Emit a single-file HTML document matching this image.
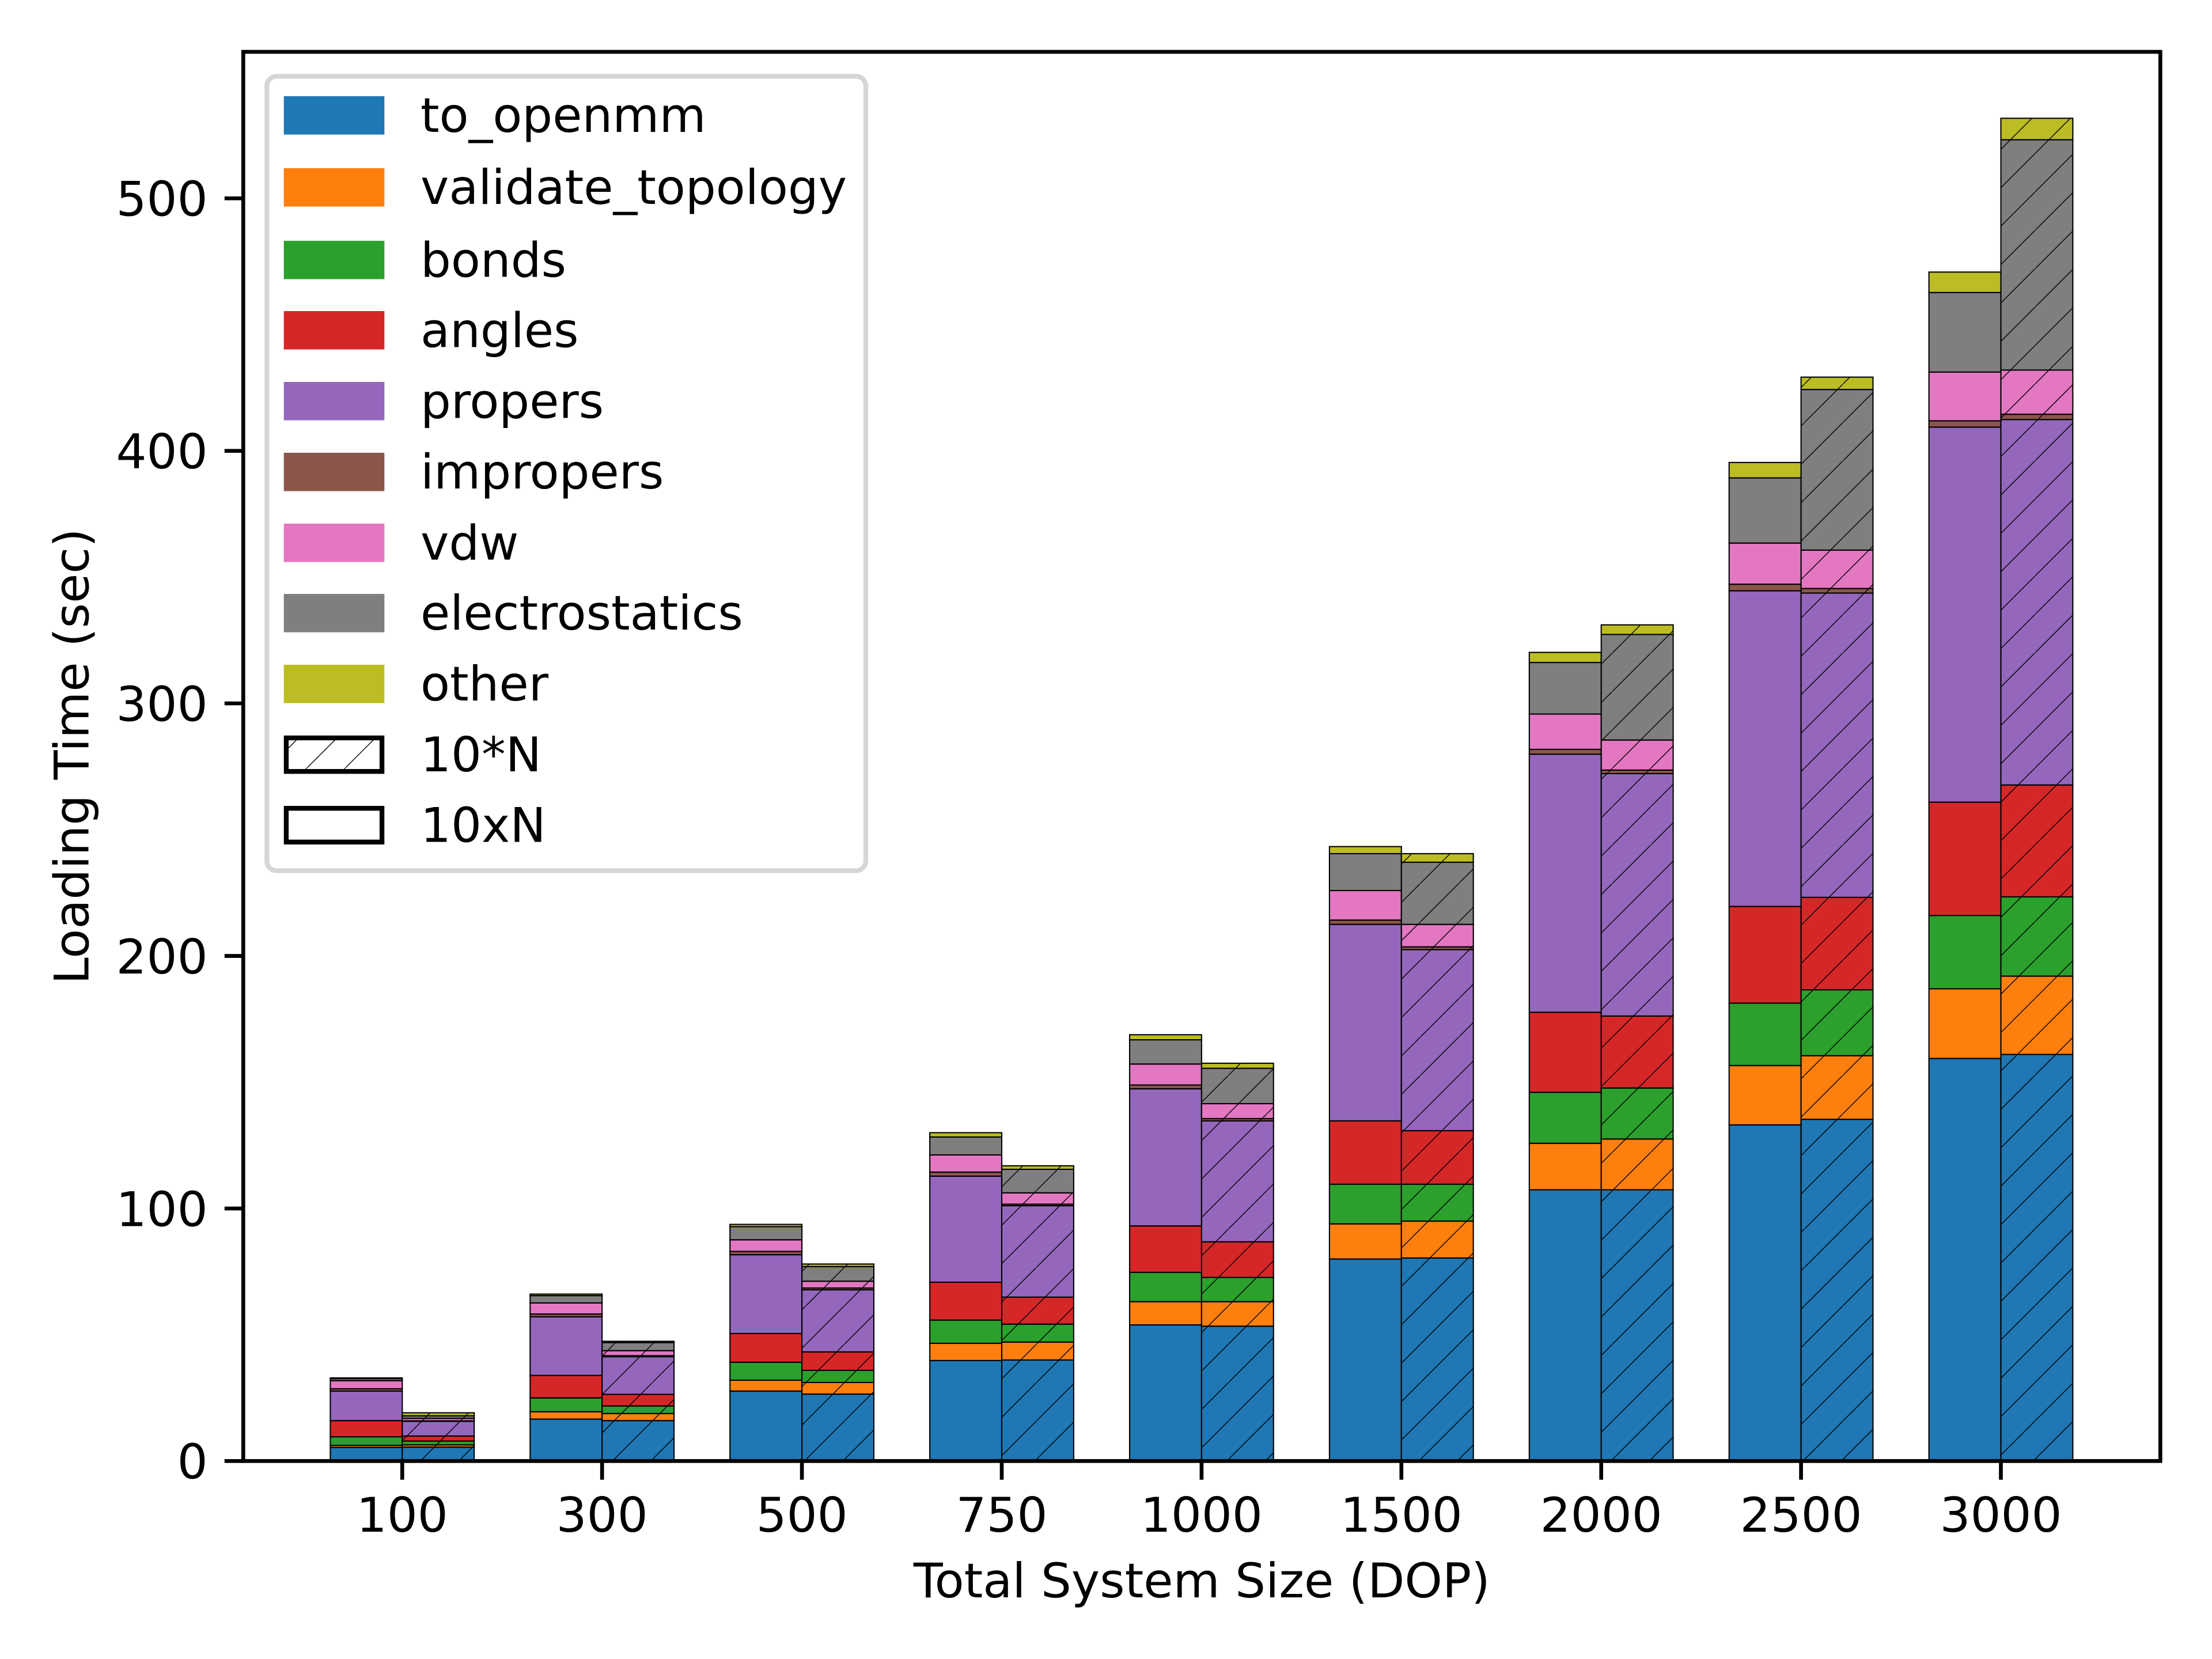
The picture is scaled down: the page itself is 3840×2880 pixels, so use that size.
<!DOCTYPE html>
<html lang="en">
<head>
<meta charset="utf-8">
<title>Loading Time vs Total System Size</title>
<style>
  html, body { margin: 0; padding: 0; background: #fff; }
  svg { display: block; }
  text { font-family: "DejaVu Sans", "Liberation Sans", sans-serif; font-size: 83.33px; fill: #000; }
</style>
</head>
<body>
<svg id="chart" xmlns="http://www.w3.org/2000/svg" width="3840" height="2880" viewBox="0 0 3840 2880">
  <defs>
    <pattern id="hatch" patternUnits="userSpaceOnUse" width="66.667" height="66.667" patternTransform="translate(-0.67 0)">
      <line x1="-5" y1="71.667" x2="71.667" y2="-5" stroke="#000" stroke-width="1.4"></line>
    </pattern>
  </defs>
  <rect x="0" y="0" width="3840" height="2880" fill="#fff"></rect>
  <g id="bars"></g>
  <g id="ticks"></g>
  <rect x="422.3" y="90" width="3328" height="2446.3" fill="none" stroke="#000" stroke-width="6.67" stroke-linejoin="miter"></rect>

  <text x="2086.3" y="2773" text-anchor="middle">Total System Size (DOP)</text>
  <text x="153.3" y="1313" text-anchor="middle" transform="rotate(-90 153.3 1313)">Loading Time (sec)</text>

  <g>
    <rect x="463.3" y="132.5" width="1039.7" height="1379" rx="16.7" ry="16.7" fill="#fff" fill-opacity="0.8" stroke="#d6d6d6" stroke-width="8.33"></rect>

    <g>
      <rect x="492.7" y="167" width="174.6" height="66.6" fill="#1f77b4"></rect>
      <text x="730" y="229">to_openmm</text>
    </g>
    <g>
      <rect x="492.7" y="292" width="174.6" height="66.6" fill="#ff7f0e"></rect>
      <text x="730" y="354">validate_topology</text>
    </g>
    <g>
      <rect x="492.7" y="418" width="174.6" height="66.6" fill="#2ca02c"></rect>
      <text x="730" y="480.7">bonds</text>
    </g>
    <g>
      <rect x="492.7" y="540" width="174.6" height="66.6" fill="#d62728"></rect>
      <text x="730" y="602.5">angles</text>
    </g>
    <g>
      <rect x="492.7" y="663" width="174.6" height="66.6" fill="#9467bd"></rect>
      <text x="730" y="725.5">propers</text>
    </g>
    <g>
      <rect x="492.7" y="786" width="174.6" height="66.6" fill="#8c564b"></rect>
      <text x="730" y="848">impropers</text>
    </g>
    <g>
      <rect x="492.7" y="909" width="174.6" height="66.6" fill="#e377c2"></rect>
      <text x="730" y="971.5">vdw</text>
    </g>
    <g>
      <rect x="492.7" y="1031" width="174.6" height="66.6" fill="#7f7f7f"></rect>
      <text x="730" y="1093">electrostatics</text>
    </g>
    <g>
      <rect x="492.7" y="1154" width="174.6" height="66.6" fill="#bcbd22"></rect>
      <text x="730" y="1216">other</text>
    </g>
    <g>
      <rect x="496.9" y="1281" width="166.2" height="58.2" fill="url(#hatch)" stroke="#000" stroke-width="8.33"></rect>
      <text x="730" y="1339">10*N</text>
    </g>
    <g>
      <rect x="496.9" y="1403.2" width="166.2" height="58.6" fill="none" stroke="#000" stroke-width="8.33"></rect>
      <text x="730" y="1461.5">10xN</text>
    </g>
  </g>
</svg>

<script>
// Chart data (seconds)
const categories = ['100', '300', '500', '750', '1000', '1500', '2000', '2500', '3000'];
const seriesNames = ['to_openmm', 'validate_topology', 'bonds', 'angles', 'propers', 'impropers', 'vdw', 'electrostatics', 'other'];
const seriesColors = ['#1f77b4', '#ff7f0e', '#2ca02c', '#d62728', '#9467bd', '#8c564b', '#e377c2', '#7f7f7f', '#bcbd22'];
const yTickValues = [0, 100, 200, 300, 400, 500];

// Left bars: 10xN (plain)
const plainToOpenmm = [5.4, 16.6, 27.7, 39.8, 53.9, 80.0, 107.4, 133.1, 159.4];
const plainValidateTopology = [0.8, 2.9, 4.3, 6.8, 9.2, 13.9, 18.4, 23.5, 27.6];
const plainBonds = [3.4, 5.5, 7.1, 9.2, 11.6, 15.7, 20.2, 24.7, 29.0];
const plainAngles = [6.4, 8.9, 11.4, 15.0, 18.4, 25.1, 31.7, 38.3, 44.9];
const plainPropers = [11.7, 23.2, 31.2, 42.0, 54.3, 77.8, 102.2, 125.0, 148.5];
const plainImpropers = [0.9, 1.1, 1.3, 1.6, 1.5, 1.7, 1.9, 2.6, 2.5];
const plainVdw = [3.2, 4.4, 4.6, 6.8, 8.3, 11.7, 14.0, 16.3, 19.3];
const plainElectrostatics = [0.8, 2.9, 5.2, 7.1, 9.6, 14.6, 20.4, 25.8, 31.5];
const plainOther = [0.3, 0.6, 0.9, 1.7, 2.0, 2.8, 4.0, 6.1, 8.1];

// Right bars: 10*N (hatched)
const hatchedToOpenmm = [5.5, 16.0, 26.5, 40.0, 53.4, 80.4, 107.4, 135.3, 161.0];
const hatchedValidateTopology = [0.9, 2.8, 4.6, 7.1, 9.7, 14.6, 20.1, 25.2, 31.0];
const hatchedBonds = [1.5, 3.0, 4.8, 7.1, 9.6, 14.6, 20.2, 26.1, 31.4];
const hatchedAngles = [2.0, 4.6, 7.3, 10.7, 14.1, 21.2, 28.5, 36.6, 44.3];
const hatchedPropers = [5.8, 14.9, 24.6, 36.2, 47.9, 71.7, 96.0, 120.5, 144.7];
const hatchedImpropers = [0.2, 0.4, 0.7, 0.6, 0.9, 1.1, 1.4, 1.8, 2.1];
const hatchedVdw = [1.0, 2.0, 2.7, 4.5, 5.9, 8.9, 11.9, 15.2, 17.5];
const hatchedElectrostatics = [1.0, 3.2, 5.8, 9.3, 14.0, 24.6, 41.8, 63.6, 91.2];
const hatchedOther = [1.2, 0.5, 1.0, 1.4, 2.0, 3.4, 3.8, 4.9, 8.5];

const plainSeries = [plainToOpenmm, plainValidateTopology, plainBonds, plainAngles, plainPropers, plainImpropers, plainVdw, plainElectrostatics, plainOther];
const hatchedSeries = [hatchedToOpenmm, hatchedValidateTopology, hatchedBonds, hatchedAngles, hatchedPropers, hatchedImpropers, hatchedVdw, hatchedElectrostatics, hatchedOther];

const SVG_NS = 'http://www.w3.org/2000/svg';
const barLayer = document.getElementById('bars');
const tickLayer = document.getElementById('ticks');

// Axis functions
const X_FIRST = 698.3, X_STEP = 346.9, BAR_FRACTION = 0.36;
const Y_ZERO = 2536.3, Y_PER_UNIT = 4.384;
function xScale(index) { return X_FIRST + index * X_STEP; }
function yScale(value) { return Y_ZERO - value * Y_PER_UNIT; }
const barWidth = BAR_FRACTION * X_STEP;

function slug(s) { return String(s).replace(/_/g, '-').toLowerCase(); }

function drawStack(seriesList, catIndex, left, hatched) {
  let base = 0;
  seriesList.forEach(function (values, s) {
    const top = base + values[catIndex];
    const y = yScale(top);
    const h = yScale(base) - y;

    const rect = document.createElementNS(SVG_NS, 'rect');
    
    
    rect.setAttribute('x', left);
    rect.setAttribute('y', y);
    rect.setAttribute('width', barWidth);
    rect.setAttribute('height', h);
    rect.setAttribute('fill', seriesColors[s]);
    rect.setAttribute('stroke', '#000');
    rect.setAttribute('stroke-width', '2.08');
    barLayer.appendChild(rect);

    if (hatched) {
      const overlay = document.createElementNS(SVG_NS, 'rect');
      
      
      overlay.setAttribute('x', left);
      overlay.setAttribute('y', y);
      overlay.setAttribute('width', barWidth);
      overlay.setAttribute('height', h);
      overlay.setAttribute('fill', 'url(#hatch)');
      overlay.setAttribute('stroke', 'none');
      barLayer.appendChild(overlay);
    }
    base = top;
  });
}

categories.forEach(function (cat, i) {
  const cx = xScale(i);
  drawStack(plainSeries, i, cx - barWidth, false);
  drawStack(hatchedSeries, i, cx, true);

  const tick = document.createElementNS(SVG_NS, 'line');
  
  
  tick.setAttribute('x1', cx);
  tick.setAttribute('x2', cx);
  tick.setAttribute('y1', Y_ZERO);
  tick.setAttribute('y2', Y_ZERO + 32.5);
  tick.setAttribute('stroke', '#000');
  tick.setAttribute('stroke-width', '6.67');
  tickLayer.appendChild(tick);

  const label = document.createElementNS(SVG_NS, 'text');
  
  
  label.setAttribute('x', cx);
  label.setAttribute('y', 2659);
  label.setAttribute('text-anchor', 'middle');
  label.textContent = cat;
  tickLayer.appendChild(label);
});

yTickValues.forEach(function (v) {
  const y = yScale(v);

  const tick = document.createElementNS(SVG_NS, 'line');
  
  
  tick.setAttribute('x1', 422.3 - 32.5);
  tick.setAttribute('x2', 422.3);
  tick.setAttribute('y1', y);
  tick.setAttribute('y2', y);
  tick.setAttribute('stroke', '#000');
  tick.setAttribute('stroke-width', '6.67');
  tickLayer.appendChild(tick);

  const label = document.createElementNS(SVG_NS, 'text');
  
  
  label.setAttribute('x', 360.6);
  label.setAttribute('y', y + 30.4);
  label.setAttribute('text-anchor', 'end');
  label.textContent = String(v);
  tickLayer.appendChild(label);
});
</script>
</body>
</html>
